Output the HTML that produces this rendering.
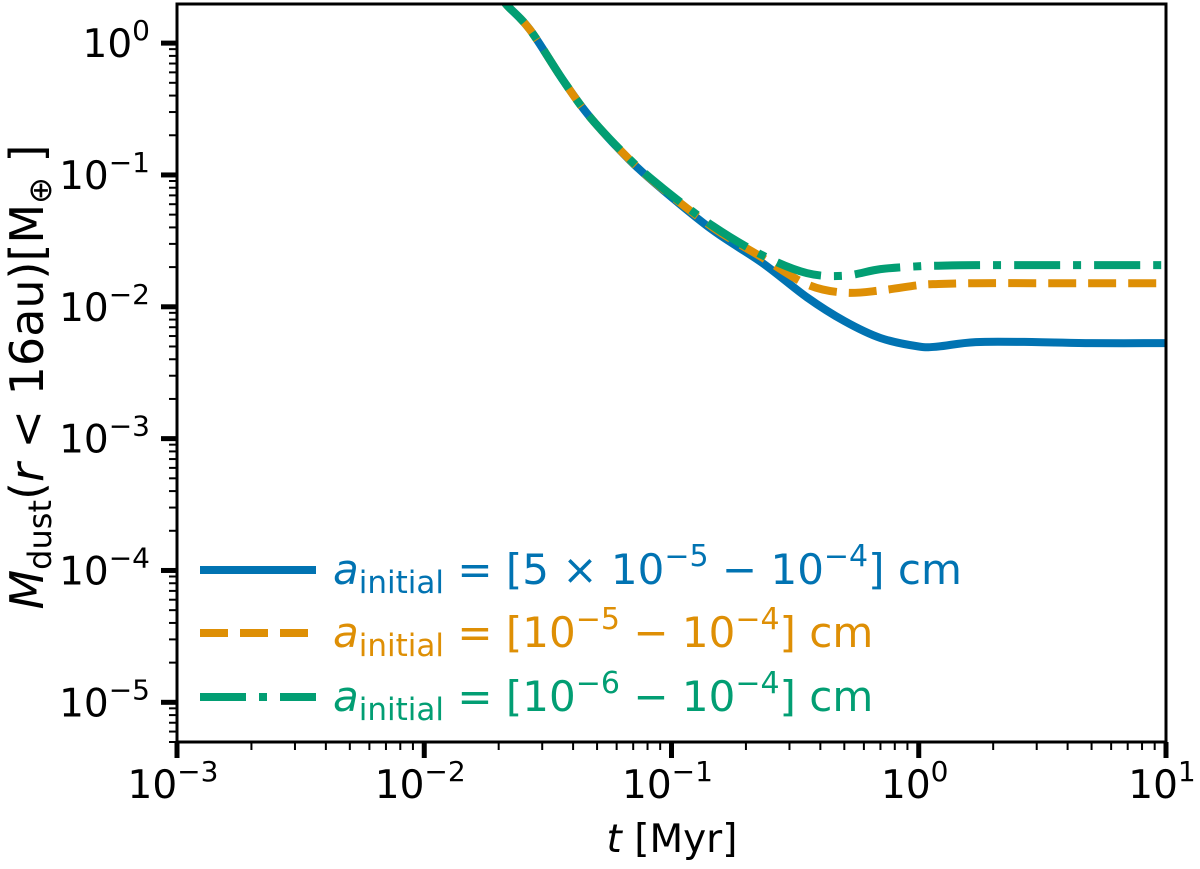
<!DOCTYPE html>
<html><head><meta charset="utf-8"><style>
html,body{margin:0;padding:0;background:#fff}
svg text{font-family:"DejaVu Sans","Liberation Sans",sans-serif;fill:#000}
</style></head><body>
<svg id="c" width="1200" height="864" xmlns="http://www.w3.org/2000/svg">
<g id="plot"></g>
</svg>
<script>
const times=[0.019,0.0216,0.0268,0.0364,0.0468,0.0679,0.0925,0.147,0.234,0.353,0.5,0.7,1.0,1.2,1.7,3,5,10];
const blueVals=[2.6,1.94,1.26,0.524,0.275,0.129,0.0767,0.0381,0.0214,0.0118,0.0078,0.0058,0.0050,0.0050,0.0054,0.0054,0.0053,0.0053];
const orangeVals=[2.6,1.94,1.26,0.524,0.275,0.13,0.078,0.040,0.0235,0.0148,0.0128,0.0133,0.0146,0.0149,0.0151,0.0151,0.0151,0.0151];
const greenVals=[2.6,1.94,1.26,0.524,0.275,0.131,0.079,0.041,0.0245,0.018,0.0172,0.0193,0.0203,0.0205,0.0207,0.0207,0.0207,0.0207];
const xTickExps=[-3,-2,-1,0,1];
const yTickExps=[0,-1,-2,-3,-4,-5];
const legendLabels=[["5 \u00d7 10","\u22125"," \u2212 10","\u22124","] cm"],["10","\u22125"," \u2212 10","\u22124","] cm"],["10","\u22126"," \u2212 10","\u22124","] cm"]];

const L=177,R=1166,T=4,B=742;
const xmin=-3,xmax=1,ymin=Math.log10(5e-6),ymax=Math.log10(1.98);
const X=t=>L+(Math.log10(t)-xmin)/(xmax-xmin)*(R-L);
const Y=v=>B-(Math.log10(v)-ymin)/(ymax-ymin)*(B-T);
const NS="http://www.w3.org/2000/svg";
const svg=document.getElementById('c');
const plot=document.getElementById('plot');
function mk(tag,attrs,parent){const e=document.createElementNS(NS,tag);for(const k in attrs)e.setAttribute(k,attrs[k]);(parent||svg).appendChild(e);return e;}

const defs=mk('defs',{});
const cp=mk('clipPath',{id:'clip'},defs);
mk('rect',{x:L,y:T,width:R-L,height:B-T},cp);

function pathFor(vals){
  const pts=times.map((t,i)=>[X(t),Y(vals[i])]);
  let d='M'+pts[0][0]+','+pts[0][1];
  for(let i=0;i<pts.length-1;i++){
    const p0=pts[Math.max(0,i-1)],p1=pts[i],p2=pts[i+1],p3=pts[Math.min(pts.length-1,i+2)];
    const c1=[p1[0]+(p2[0]-p0[0])/6,p1[1]+(p2[1]-p0[1])/6];
    const c2=[p2[0]-(p3[0]-p1[0])/6,p2[1]-(p3[1]-p1[1])/6];
    d+=' C'+c1[0]+','+c1[1]+' '+c2[0]+','+c2[1]+' '+p2[0]+','+p2[1];
  }
  return d;
}
const series=[
  {vals:blueVals,color:'#0173B2',dash:'none',name:'series-blue-line'},
  {vals:orangeVals,color:'#DE8F05',dash:'28 12',name:'series-orange-line'},
  {vals:greenVals,color:'#029E73',dash:'46 13 8 13',name:'series-green-line'}
];
series.forEach(s=>{
  const p=mk('path',{d:pathFor(s.vals),fill:'none',stroke:s.color,'stroke-width':8,'stroke-dasharray':s.dash,'clip-path':'url(#clip)'},plot);
  
  
});

const fr=mk('rect',{x:L,y:T,width:R-L,height:B-T,fill:'none',stroke:'#000','stroke-width':3});



for(let e=xmin;e<=xmax;e++){
  const x=X(Math.pow(10,e));
  const tk=mk('line',{x1:x,x2:x,y1:B,y2:B+16,stroke:'#000','stroke-width':5});
  
  
  if(e<xmax) for(let m=2;m<=9;m++){const xm=X(m*Math.pow(10,e));mk('line',{x1:xm,x2:xm,y1:B,y2:B+8,stroke:'#000','stroke-width':2});}
}
xTickExps.forEach(e=>{
  const t=mk('text',{x:X(Math.pow(10,e))-4,y:798,'font-size':39,'text-anchor':'middle'});
  
  
  t.innerHTML='10<tspan dy="-17" font-size="28">'+(e<0?'\u2212'+(-e):e)+'</tspan>';
});
for(let e=-6;e<=0;e++){
  for(let m=1;m<=9;m++){
    const v=m*Math.pow(10,e);const y=Y(v);
    if(y<T-0.5||y>B+0.5)continue;
    const major=m===1;
    const tk=mk('line',{x1:L-(major?16:8),x2:L,y1:y,y2:y,stroke:'#000','stroke-width':major?5:2});
    
    
  }
}
yTickExps.forEach(e=>{
  const t=mk('text',{x:150,y:Y(Math.pow(10,e))+14,'font-size':39,'text-anchor':'end'});
  
  
  t.innerHTML='10<tspan dy="-17" font-size="28">'+(e<0?'\u2212'+(-e):e)+'</tspan>';
});
const xt=mk('text',{x:672,y:852,'font-size':39,'text-anchor':'middle'});


xt.innerHTML='<tspan font-style="italic">t</tspan> [Myr]';
const yt=mk('text',{x:0,y:0,'font-size':46,'text-anchor':'middle',transform:'translate(43,377) rotate(-90)'});


yt.innerHTML='<tspan font-style="italic">M</tspan><tspan font-size="32" dy="8">dust</tspan><tspan dy="-8">(</tspan><tspan font-style="italic">r</tspan> &lt; 16au)[M<tspan font-size="32" dy="8">\u2295</tspan><tspan dy="-8"> ]</tspan>';

const legY=[570,633,697];
series.forEach((s,i)=>{
  const g=mk('g',{});
  
  
  mk('line',{x1:200,x2:316,y1:legY[i],y2:legY[i],stroke:s.color,'stroke-width':8,'stroke-dasharray':s.dash},g);
  const t=mk('text',{x:333,y:legY[i]+14,'font-size':42},g);
  t.setAttribute('style','fill:'+s.color);
  const lb=legendLabels[i];
  t.innerHTML='<tspan font-style="italic">a</tspan><tspan font-size="31" dy="9">initial</tspan><tspan dy="-9"> = [</tspan>'+lb[0]+'<tspan dy="-18" font-size="30">'+lb[1]+'</tspan><tspan dy="18">'+lb[2]+'</tspan><tspan dy="-18" font-size="30">'+lb[3]+'</tspan><tspan dy="18">'+lb[4]+'</tspan>';
});
</script>
</body></html>
